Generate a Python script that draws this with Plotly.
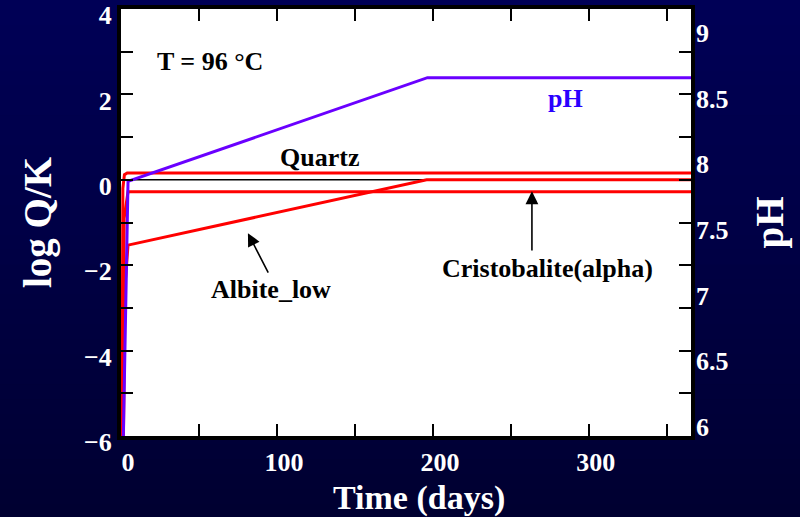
import plotly.graph_objects as go

# ---- data ----
days_quartz = [0.0, 1.2, 2.2, 4.0, 365.5]
logqk_quartz = [-12.0, -0.2, 0.12, 0.16, 0.16]

days_cristo = [0.0, 2.0, 4.5, 365.5]
logqk_cristo = [-12.0, -0.9, -0.28, -0.28]

days_albite = [0.0, 2.5, 4.5, 196.0, 365.5]
logqk_albite = [-12.0, -2.5, -1.53, 0.0, 0.0]

days_eq = [4.0, 365.5]
logqk_eq = [0.0, 0.0]

days_ph = [1.0, 4.5, 196.5, 365.5]
ph_values = [5.6, 7.87, 8.66, 8.66]

x_tickvals = [0, 50, 100, 150, 200, 250, 300, 350]
x_ticktext = ["0", "", "100", "", "200", "", "300", ""]
y_tickvals = [-6, -5, -4, -3, -2, -1, 0, 1, 2, 3, 4]
y_ticktext = ["\u22126", "", "\u22124", "", "\u22122", "", "0", "", "2", "", "4"]
ph_tickvals = [6, 6.5, 7, 7.5, 8, 8.5, 9]
ph_ticktext = ["6", "6.5", "7", "7.5", "8", "8.5", "9"]

FONT = "Liberation Serif, Times New Roman, serif"
RED = "#ff0000"
PURPLE = "#6a00ff"

fig = go.Figure()
fig.add_trace(go.Scatter(x=days_eq, y=logqk_eq, mode="lines",
                         line=dict(color="black", width=1.5), showlegend=False))
fig.add_trace(go.Scatter(x=days_quartz, y=logqk_quartz, mode="lines",
                         line=dict(color=RED, width=3), showlegend=False))
fig.add_trace(go.Scatter(x=days_cristo, y=logqk_cristo, mode="lines",
                         line=dict(color=RED, width=3), showlegend=False))
fig.add_trace(go.Scatter(x=days_albite, y=logqk_albite, mode="lines",
                         line=dict(color=RED, width=3), showlegend=False))
fig.add_trace(go.Scatter(x=days_ph, y=ph_values, mode="lines", yaxis="y2",
                         line=dict(color=PURPLE, width=3), showlegend=False))

# background gradient (dark navy)
shapes = []
n = 40
top = (0, 0, 88)
bot = (0, 0, 46)
for i in range(n):
    f = i / (n - 1)
    c = tuple(round(top[k] + (bot[k] - top[k]) * f) for k in range(3))
    shapes.append(dict(type="rect", xref="paper", yref="paper",
                       x0=-0.3, x1=1.3, y0=1.1 - (i + 1) * 1.4 / n - 0.001,
                       y1=1.1 - i * 1.4 / n + 0.001,
                       fillcolor="rgb(%d,%d,%d)" % c, line=dict(width=0), layer="below"))
shapes.append(dict(type="rect", xref="x domain", yref="y domain", x0=0, x1=1, y0=0, y1=1,
                   fillcolor="white", line=dict(width=0), layer="below"))

tick_font = dict(family=FONT, size=26, color="white", weight="bold")

fig.update_layout(
    width=800, height=517,
    margin=dict(l=121, r=109, t=9, b=81, autoexpand=False),
    paper_bgcolor="#000044",
    plot_bgcolor="rgba(0,0,0,0)",
    shapes=shapes,
    xaxis=dict(range=[0, 365.5], tickvals=x_tickvals, ticktext=x_ticktext,
               ticks="inside", ticklen=12, tickwidth=2, tickcolor="black",
               showline=True, linewidth=4, linecolor="black", mirror="ticks",
               showgrid=False, zeroline=False, tickfont=tick_font, automargin=False,
               ticklabelshift=7, ticklabeloverflow="allow"),
    yaxis=dict(range=[-6, 4], tickvals=y_tickvals, ticktext=y_ticktext,
               ticks="inside", ticklen=12, tickwidth=2, tickcolor="black",
               showline=True, linewidth=4, linecolor="black", mirror="ticks",
               showgrid=False, zeroline=False, tickfont=tick_font, automargin=False,
               ticklabelshift=6, ticklabeloverflow="allow",
               title=dict(text="log Q/K", font=dict(family=FONT, size=39, color="white", weight="bold"),
                          standoff=21)),
    yaxis2=dict(range=[5.931, 9.183], overlaying="y", side="right",
                tickvals=ph_tickvals, ticktext=ph_ticktext, ticks="",
                showline=False, showgrid=False, zeroline=False, tickfont=tick_font,
                ticklabelstandoff=4, automargin=False, ticklabeloverflow="allow",
                title=dict(text="pH", font=dict(family=FONT, size=39, color="white", weight="bold"),
                           standoff=28)),
)

# x-axis title (placed slightly right of centre, as in the reference)
fig.add_annotation(xref="paper", yref="paper", x=0.5228, y=-0.145, text="Time (days)",
                   showarrow=False, xanchor="center", yanchor="middle",
                   font=dict(family=FONT, size=34, color="white", weight="bold"))

ann_font = dict(family=FONT, size=26, color="black", weight="bold")
fig.add_annotation(x=57.1, y=2.76, text="T = 96 \u00b0C", showarrow=False, font=ann_font)
fig.add_annotation(x=285.3, y=1.91, text="pH", showarrow=False,
                   font=dict(family=FONT, size=26, color="#2a00ff", weight="bold"))
fig.add_annotation(x=127.6, y=0.53, text="Quartz", showarrow=False, font=ann_font)
fig.add_annotation(x=273.2, y=-2.07, text="Cristobalite(alpha)", showarrow=False, font=ann_font)
fig.add_annotation(x=96.2, y=-2.58, text="Albite_low", showarrow=False, font=ann_font)
fig.add_annotation(x=263.5, y=-0.27, ax=263.5, ay=-1.69, axref="x", ayref="y", text="",
                   showarrow=True, arrowhead=2, arrowsize=1.6, arrowwidth=1.6, arrowcolor="black")
fig.add_annotation(x=81.4, y=-1.25, ax=94.9, ay=-2.21, axref="x", ayref="y", text="",
                   showarrow=True, arrowhead=2, arrowsize=1.6, arrowwidth=1.6, arrowcolor="black")

fig.write_html("out.html")
